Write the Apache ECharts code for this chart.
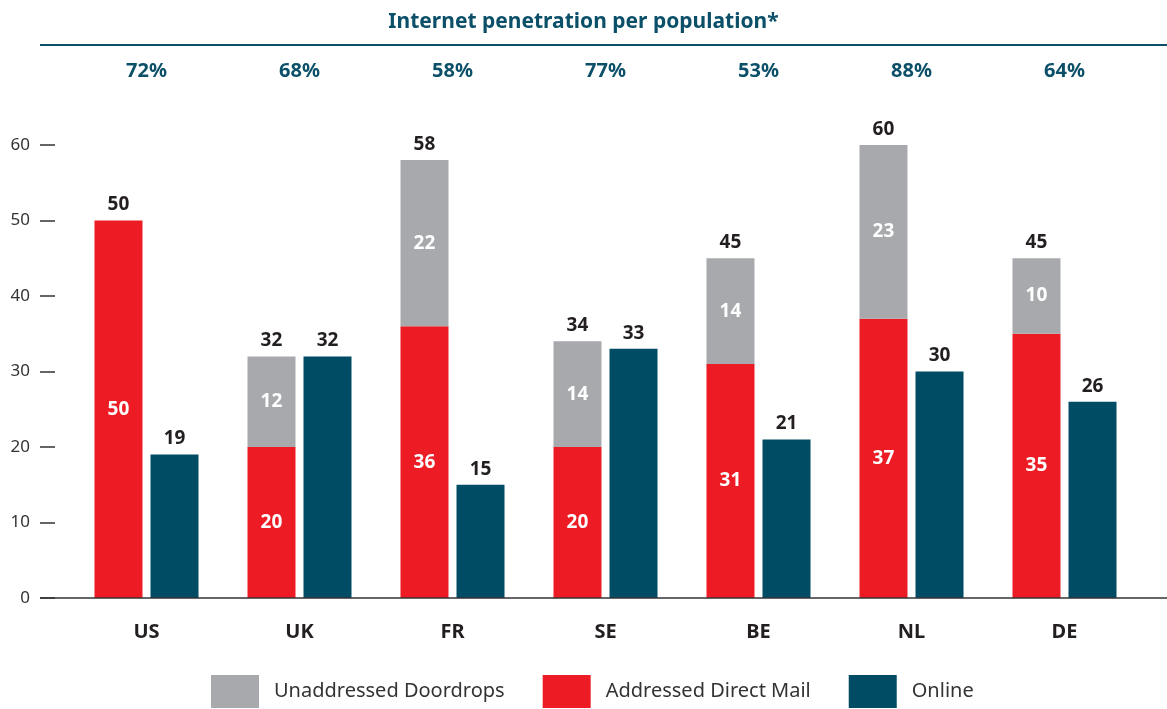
<!DOCTYPE html>
<html>
<head>
<meta charset="utf-8">
<script src="https://cdn.jsdelivr.net/npm/echarts@6/dist/echarts.min.js"></script>
<style>
  html, body { margin: 0; padding: 0; background: #fff; }
  #chart { width: 1167px; height: 709px; }
</style>
</head>
<body>
<div id="chart"></div>
<script>
// Market spend by channel per country, with internet penetration shown above
const countries = ['US', 'UK', 'FR', 'SE', 'BE', 'NL', 'DE'];
const penetration = ['72%', '68%', '58%', '77%', '53%', '88%', '64%'];
const addressedMail = [50, 20, 36, 20, 31, 37, 35];
const unaddressed = [0, 12, 22, 14, 14, 23, 10];
const online = [19, 32, 15, 33, 21, 30, 26];
const yTicks = { min: 0, max: 60, interval: 10 };

const FONT = '"Noto Sans", "Open Sans", sans-serif';
const TEAL = '#004c64';
const RED = '#ed1c24';
const GREY = '#a7a9ac';
const TITLE = '#0b5068';
const DARK = '#231f20';

const mailTotals = addressedMail.map((v, i) => v + unaddressed[i]);

const insideLabel = {
  show: true,
  position: 'inside',
  color: '#fff',
  fontFamily: FONT,
  fontWeight: 'bold',
  fontSize: 19,
  formatter: p => (p.value ? p.value : '')
};
const topLabel = {
  show: true,
  position: 'top',
  distance: 6,
  color: DARK,
  fontFamily: FONT,
  fontWeight: 'bold',
  fontSize: 19
};

const chart = echarts.init(document.getElementById('chart'), null, { renderer: 'canvas' });

chart.setOption({
  animation: false,
  textStyle: { fontFamily: FONT },
  title: {
    text: 'Internet penetration per population*',
    left: 'center',
    top: 7,
    textStyle: { color: TITLE, fontFamily: FONT, fontWeight: 'bold', fontSize: 21 }
  },
  legend: {
    bottom: -4,
    left: 206,
    itemWidth: 48,
    itemHeight: 33,
    itemGap: 38,
    icon: 'rect',
    data: ['Unaddressed Doordrops', 'Addressed Direct Mail', 'Online'],
    textStyle: { color: '#333', fontFamily: FONT, fontSize: 20, padding: [0, 0, 0, 10] }
  },
  grid: { left: 70, right: 26, top: 145, bottom: 111 },
  xAxis: [
    {
      type: 'category',
      data: countries,
      axisLine: { show: false },
      axisTick: { show: false },
      axisLabel: { margin: 24, color: DARK, fontFamily: FONT, fontWeight: 'bold', fontSize: 20 }
    },
    {
      type: 'category',
      position: 'top',
      data: penetration,
      offset: 64,
      axisLine: { show: false },
      axisTick: { show: false },
      axisLabel: { margin: 0, color: TITLE, fontFamily: FONT, fontWeight: 'bold', fontSize: 20 }
    }
  ],
  yAxis: {
    type: 'value',
    min: yTicks.min,
    max: yTicks.max,
    interval: yTicks.interval,
    offset: 30,
    axisLine: { show: false },
    axisTick: { show: true, inside: true, length: 15, lineStyle: { color: '#333', width: 1.5 } },
    splitLine: { show: false },
    axisLabel: { margin: 10, color: '#333', fontFamily: FONT, fontSize: 17 }
  },
  series: [
    {
      name: 'Addressed Direct Mail',
      type: 'bar',
      stack: 'mail',
      barWidth: 48,
      barGap: '16.7%',
      itemStyle: { color: RED },
      label: insideLabel,
      data: addressedMail
    },
    {
      name: 'Unaddressed Doordrops',
      type: 'bar',
      stack: 'mail',
      barWidth: 48,
      itemStyle: { color: GREY },
      label: insideLabel,
      data: unaddressed
    },
    {
      // zero-height cap carrying the stack total
      name: 'total',
      type: 'bar',
      stack: 'mail',
      barWidth: 48,
      itemStyle: { color: 'transparent' },
      label: Object.assign({}, topLabel, { formatter: p => mailTotals[p.dataIndex] }),
      tooltip: { show: false },
      data: countries.map(() => 0)
    },
    {
      name: 'Online',
      type: 'bar',
      barWidth: 48,
      barGap: '16.7%',
      itemStyle: { color: TEAL },
      label: topLabel,
      data: online
    }
  ]
});

// Baseline and header rule spanning the full width
const baseY = chart.convertToPixel({ yAxisIndex: 0 }, 0);
chart.setOption({
  graphic: [
    {
      type: 'line',
      shape: { x1: 40, y1: baseY, x2: 1167, y2: baseY },
      style: { stroke: '#333', lineWidth: 1.5 },
      z: 10
    },
    {
      type: 'line',
      shape: { x1: 40, y1: 45, x2: 1167, y2: 45 },
      style: { stroke: TITLE, lineWidth: 2 }
    }
  ]
});
</script>
</body>
</html>
